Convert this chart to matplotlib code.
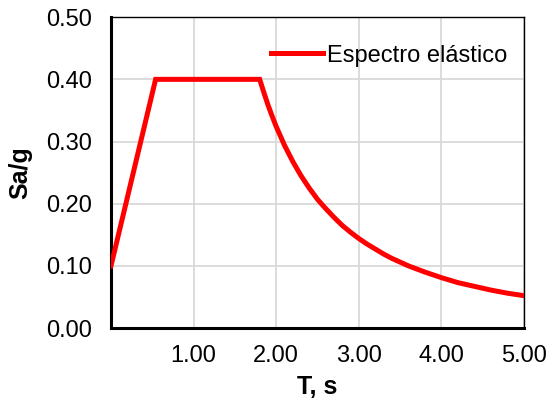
import matplotlib.pyplot as plt

# ================================
# Data
# ================================

periodo = [0.0, 0.54, 1.80, 1.85, 1.90, 1.95, 2.00, 2.10, 2.20, 2.30, 2.40, 2.50, 2.60,
           2.70, 2.80, 2.90, 3.00, 3.10, 3.20, 3.30, 3.40, 3.50, 3.60, 3.80, 4.00,
           4.20, 4.40, 4.60, 4.80, 5.00]
sa_g = [0.10, 0.40, 0.40, 0.379, 0.359, 0.341, 0.324, 0.294, 0.268, 0.245, 0.225,
        0.207, 0.192, 0.178, 0.165, 0.154, 0.144, 0.135, 0.127, 0.119, 0.112, 0.106,
        0.100, 0.090, 0.081, 0.073, 0.067, 0.061, 0.056, 0.052]

x_ticks = [1, 2, 3, 4, 5]
x_tick_labels = ["1.00", "2.00", "3.00", "4.00", "5.00"]
y_ticks = [0.0, 0.1, 0.2, 0.3, 0.4, 0.5]
y_tick_labels = ["0.00", "0.10", "0.20", "0.30", "0.40", "0.50"]

plt.rcParams['font.family'] = ['Liberation Sans', 'DejaVu Sans']

fig = plt.figure(figsize=(5.49, 4.09), dpi=100)
ax = fig.add_axes([0.2022, 0.198, 0.7523, 0.760])

ax.plot(periodo, sa_g, color='#ff0000', lw=3.6, label='Espectro elástico',
        solid_joinstyle='miter', zorder=3)

ax.set_xlim(0, 5)
ax.set_ylim(0, 0.5)
ax.set_xticks(x_ticks)
ax.set_xticklabels(x_tick_labels)
ax.set_yticks(y_ticks)
ax.set_yticklabels(y_tick_labels)
ax.tick_params(axis='both', length=0, labelsize=17, colors='black')
ax.tick_params(axis='x', pad=12)
ax.tick_params(axis='y', pad=14)

ax.grid(True, color='#d9d9d9', lw=1.3)
ax.set_axisbelow(True)

for side in ['left', 'bottom']:
    ax.spines[side].set_linewidth(2.2)
for side in ['top', 'right']:
    ax.spines[side].set_linewidth(1.0)

ax.set_xlabel('T, s', fontsize=18, fontweight='bold', labelpad=6)
ax.set_ylabel('Sa/g', fontsize=18, fontweight='bold', labelpad=10)

ax.legend(loc='upper right', frameon=False, fontsize=17, handlelength=2.2,
          handletextpad=0.2, borderaxespad=0.3, bbox_to_anchor=(1.0, 0.965))

fig.savefig('out.png', dpi=100)
